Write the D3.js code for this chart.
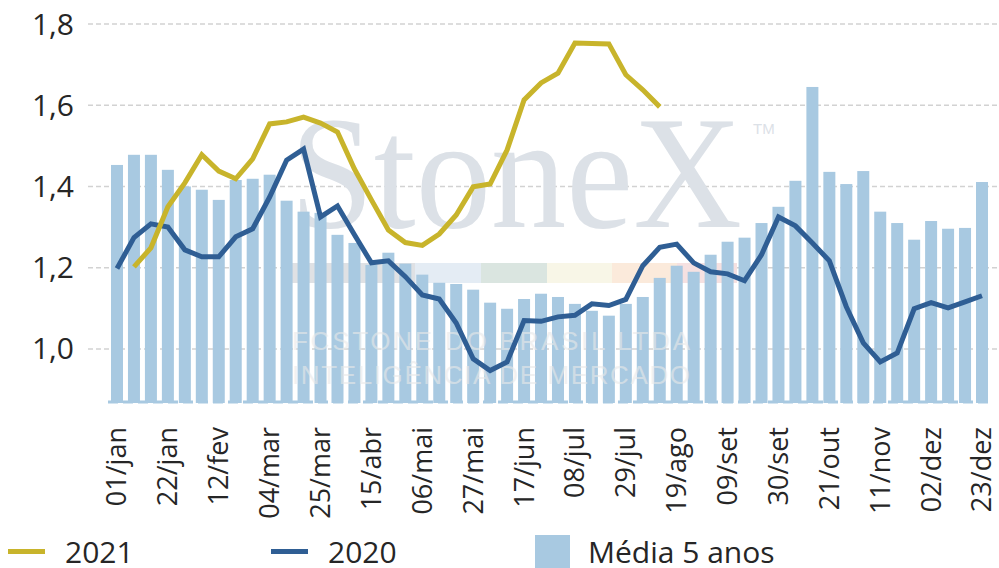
<!DOCTYPE html>
<html>
<head>
<meta charset="utf-8">
<script src="https://cdn.jsdelivr.net/npm/d3@7"></script>
<style>
  html, body { margin: 0; padding: 0; background: #fff; }
  svg { display: block; font-family: 'Open Sans', sans-serif; }
  .tick-label { fill: #262626; }
</style>
</head>
<body>
<svg id="chart" width="999" height="568"></svg>
<script>
var weeks = [
  '01/jan', '08/jan', '15/jan', '22/jan', '29/jan', '05/fev', '12/fev', '19/fev', '26/fev',
  '04/mar', '11/mar', '18/mar', '25/mar', '01/abr', '08/abr', '15/abr', '22/abr', '29/abr',
  '06/mai', '13/mai', '20/mai', '27/mai', '03/jun', '10/jun', '17/jun', '24/jun',
  '01/jul', '08/jul', '15/jul', '22/jul', '29/jul', '05/ago', '12/ago', '19/ago', '26/ago',
  '02/set', '09/set', '16/set', '23/set', '30/set', '07/out', '14/out', '21/out', '28/out',
  '04/nov', '11/nov', '18/nov', '25/nov', '02/dez', '09/dez', '16/dez', '23/dez'
]

var media5 = [
  1.453, 1.478, 1.478, 1.441, 1.400, 1.392, 1.367, 1.416, 1.419, 1.429,
  1.365, 1.338, 1.335, 1.281, 1.261, 1.207, 1.237, 1.210, 1.183, 1.163,
  1.160, 1.146, 1.114, 1.099, 1.123, 1.136, 1.128, 1.111, 1.094, 1.082,
  1.111, 1.128, 1.175, 1.205, 1.190, 1.232, 1.264, 1.274, 1.310, 1.350,
  1.414, 1.645, 1.436, 1.406, 1.438, 1.338, 1.310, 1.269, 1.315, 1.296,
  1.298, 1.411
]

var s2020 = [
  1.198, 1.274, 1.308, 1.300, 1.244, 1.227, 1.227, 1.276, 1.296, 1.374,
  1.465, 1.492, 1.325, 1.352, 1.281, 1.212, 1.217, 1.178, 1.133, 1.123,
  1.064, 0.976, 0.947, 0.968, 1.070, 1.068, 1.079, 1.083, 1.111, 1.107,
  1.122, 1.205, 1.250, 1.258, 1.212, 1.190, 1.185, 1.168, 1.232, 1.325,
  1.303, 1.261, 1.217, 1.104, 1.015, 0.968, 0.990, 1.099, 1.114, 1.101,
  1.116, 1.131
]

var s2021 = [
  null, 1.202, 1.249, 1.350, 1.409, 1.478, 1.438, 1.419, 1.468, 1.554,
  1.559, 1.571, 1.556, 1.534, 1.443, 1.367, 1.293, 1.262, 1.255, 1.283,
  1.330, 1.399, 1.406, 1.490, 1.613, 1.655, 1.679, 1.753, 1.752, 1.751,
  1.675, 1.638, 1.596
]

var yTicks = [1.0, 1.2, 1.4, 1.6, 1.8]

var colors = {bars: '#a8c9e1', y2020: '#2f5e94', y2021: '#c8b42b'}

var svg = d3.select('#chart')

var x = d3.scalePoint()
    .domain(weeks)
    .range([117, 982])

var y = d3.scaleLinear()
    .domain([0.867, 1.8])
    .range([403, 24])

var barW = 12

/*
    gridlines + y labels
*/
var grid = svg.append('g').classed('grid', true)

grid.selectAll('line')
    .data(yTicks)
    .enter()
    .append('line')
    .attr('x1', 88)
    .attr('x2', 999)
    .attr('y1', d => y(d))
    .attr('y2', d => y(d))
    .attr('stroke', '#d2d2d2')
    .attr('stroke-width', 1.5)
    .attr('stroke-dasharray', '5,3')

grid.selectAll('text')
    .data(yTicks)
    .enter()
    .append('text')
    .classed('tick-label', true)
    .attr('x', 74)
    .attr('y', d => y(d))
    .attr('dy', '0.35em')
    .attr('text-anchor', 'end')
    .style('font-size', '30px')
    .text(d => d3.format('.1f')(d).replace('.', ','))

/*
    watermark (behind the bars)
*/
var wm = svg.append('g').classed('watermark', true)

var logo = wm.append('text')
    .attr('x', 290)
    .attr('y', 227)
    .style('font-family', "'Liberation Serif', serif")
    .style('fill', '#dce1e7')

logo.append('tspan')
    .attr('textLength', 452)
    .attr('lengthAdjust', 'spacingAndGlyphs')
    .style('font-size', '162px')
    .text('StoneX')

logo.append('tspan')
    .attr('x', 753)
    .attr('y', 134)
    .style('font-family', "'Liberation Sans', sans-serif")
    .style('font-size', '15px')
    .text('TM')

var band = [
  {x0: 290, x1: 415, c: '#dfe1e4'},
  {x0: 415, x1: 481, c: '#e4ecf4'},
  {x0: 481, x1: 547, c: '#dae5e0'},
  {x0: 547, x1: 612, c: '#f8f6e7'},
  {x0: 612, x1: 677, c: '#fbeadb'},
  {x0: 677, x1: 737, c: '#f6e1e1'}
]

wm.selectAll('rect')
    .data(band)
    .enter()
    .append('rect')
    .attr('x', d => d.x0)
    .attr('width', d => d.x1 - d.x0)
    .attr('y', 263)
    .attr('height', 20)
    .attr('fill', d => d.c)

/*
    bars
*/
svg.append('g')
    .classed('bars', true)
    .selectAll('rect')
    .data(media5)
    .enter()
    .append('rect')
    .attr('x', (d, i) => x(weeks[i]) - barW / 2)
    .attr('width', barW)
    .attr('y', d => y(d))
    .attr('height', d => y.range()[0] - y(d))
    .attr('fill', colors.bars)

// faint company lines drawn over the bars
var wmText = svg.append('g')
    .style('font-family', "'Liberation Sans', sans-serif")
    .style('fill', '#e9e9e9')
    .style('opacity', 0.6)

wmText.append('text')
    .attr('x', 292)
    .attr('y', 350)
    .attr('textLength', 398)
    .attr('lengthAdjust', 'spacing')
    .style('font-size', '26px')
    .text('FCSTONE DO BRASIL LTDA')

wmText.append('text')
    .attr('x', 292)
    .attr('y', 384)
    .attr('textLength', 398)
    .attr('lengthAdjust', 'spacing')
    .style('font-size', '26px')
    .text('INTELIGÊNCIA DE MERCADO')

// dashed base line
svg.append('line')
    .attr('x1', 108)
    .attr('x2', 991)
    .attr('y1', 402)
    .attr('y2', 402)
    .attr('stroke', colors.bars)
    .attr('stroke-width', 3)
    .attr('stroke-dasharray', '10,5')

/*
    lines
*/
var line = d3.line()
    .defined(d => d.v != null)
    .x(d => x(d.w))
    .y(d => y(d.v))

function toPoints (arr) {
  return arr.map((v, i) => ({w: weeks[i], v: v}))
}

svg.append('path')
    .datum(toPoints(s2020))
    .attr('d', line)
    .attr('fill', 'none')
    .attr('stroke', colors.y2020)
    .attr('stroke-width', 5)

svg.append('path')
    .datum(toPoints(s2021))
    .attr('d', line)
    .attr('fill', 'none')
    .attr('stroke', colors.y2021)
    .attr('stroke-width', 5)

/*
    x labels, every third week
*/
svg.append('g')
    .classed('xlabels', true)
    .selectAll('text')
    .data(weeks.filter((d, i) => i % 3 === 0))
    .enter()
    .append('text')
    .classed('tick-label', true)
    .attr('transform', d => `translate(${x(d)},427) rotate(-90)`)
    .attr('dy', '0.35em')
    .attr('text-anchor', 'end')
    .style('font-size', '27px')
    .text(d => d)

/*
    legend
*/
var legend = svg.append('g').classed('legend', true)

var legendItems = [
  {label: '2021', type: 'line', color: colors.y2021, x: 8},
  {label: '2020', type: 'line', color: colors.y2020, x: 271},
  {label: 'Média 5 anos', type: 'box', color: colors.bars, x: 535}
]

legendItems.forEach(function (d) {
  if (d.type === 'line') {
    legend.append('rect')
        .attr('x', d.x)
        .attr('y', 549)
        .attr('width', 37)
        .attr('height', 5)
        .attr('fill', d.color)
    legend.append('text')
        .classed('tick-label', true)
        .attr('x', d.x + 57)
        .attr('y', 563)
        .style('font-size', '30px')
        .text(d.label)
  } else {
    legend.append('rect')
        .attr('x', d.x)
        .attr('y', 535)
        .attr('width', 35)
        .attr('height', 40)
        .attr('fill', d.color)
    legend.append('text')
        .classed('tick-label', true)
        .attr('x', d.x + 53)
        .attr('y', 563)
        .style('font-size', '30px')
        .text(d.label)
  }
})
</script>
</body>
</html>
